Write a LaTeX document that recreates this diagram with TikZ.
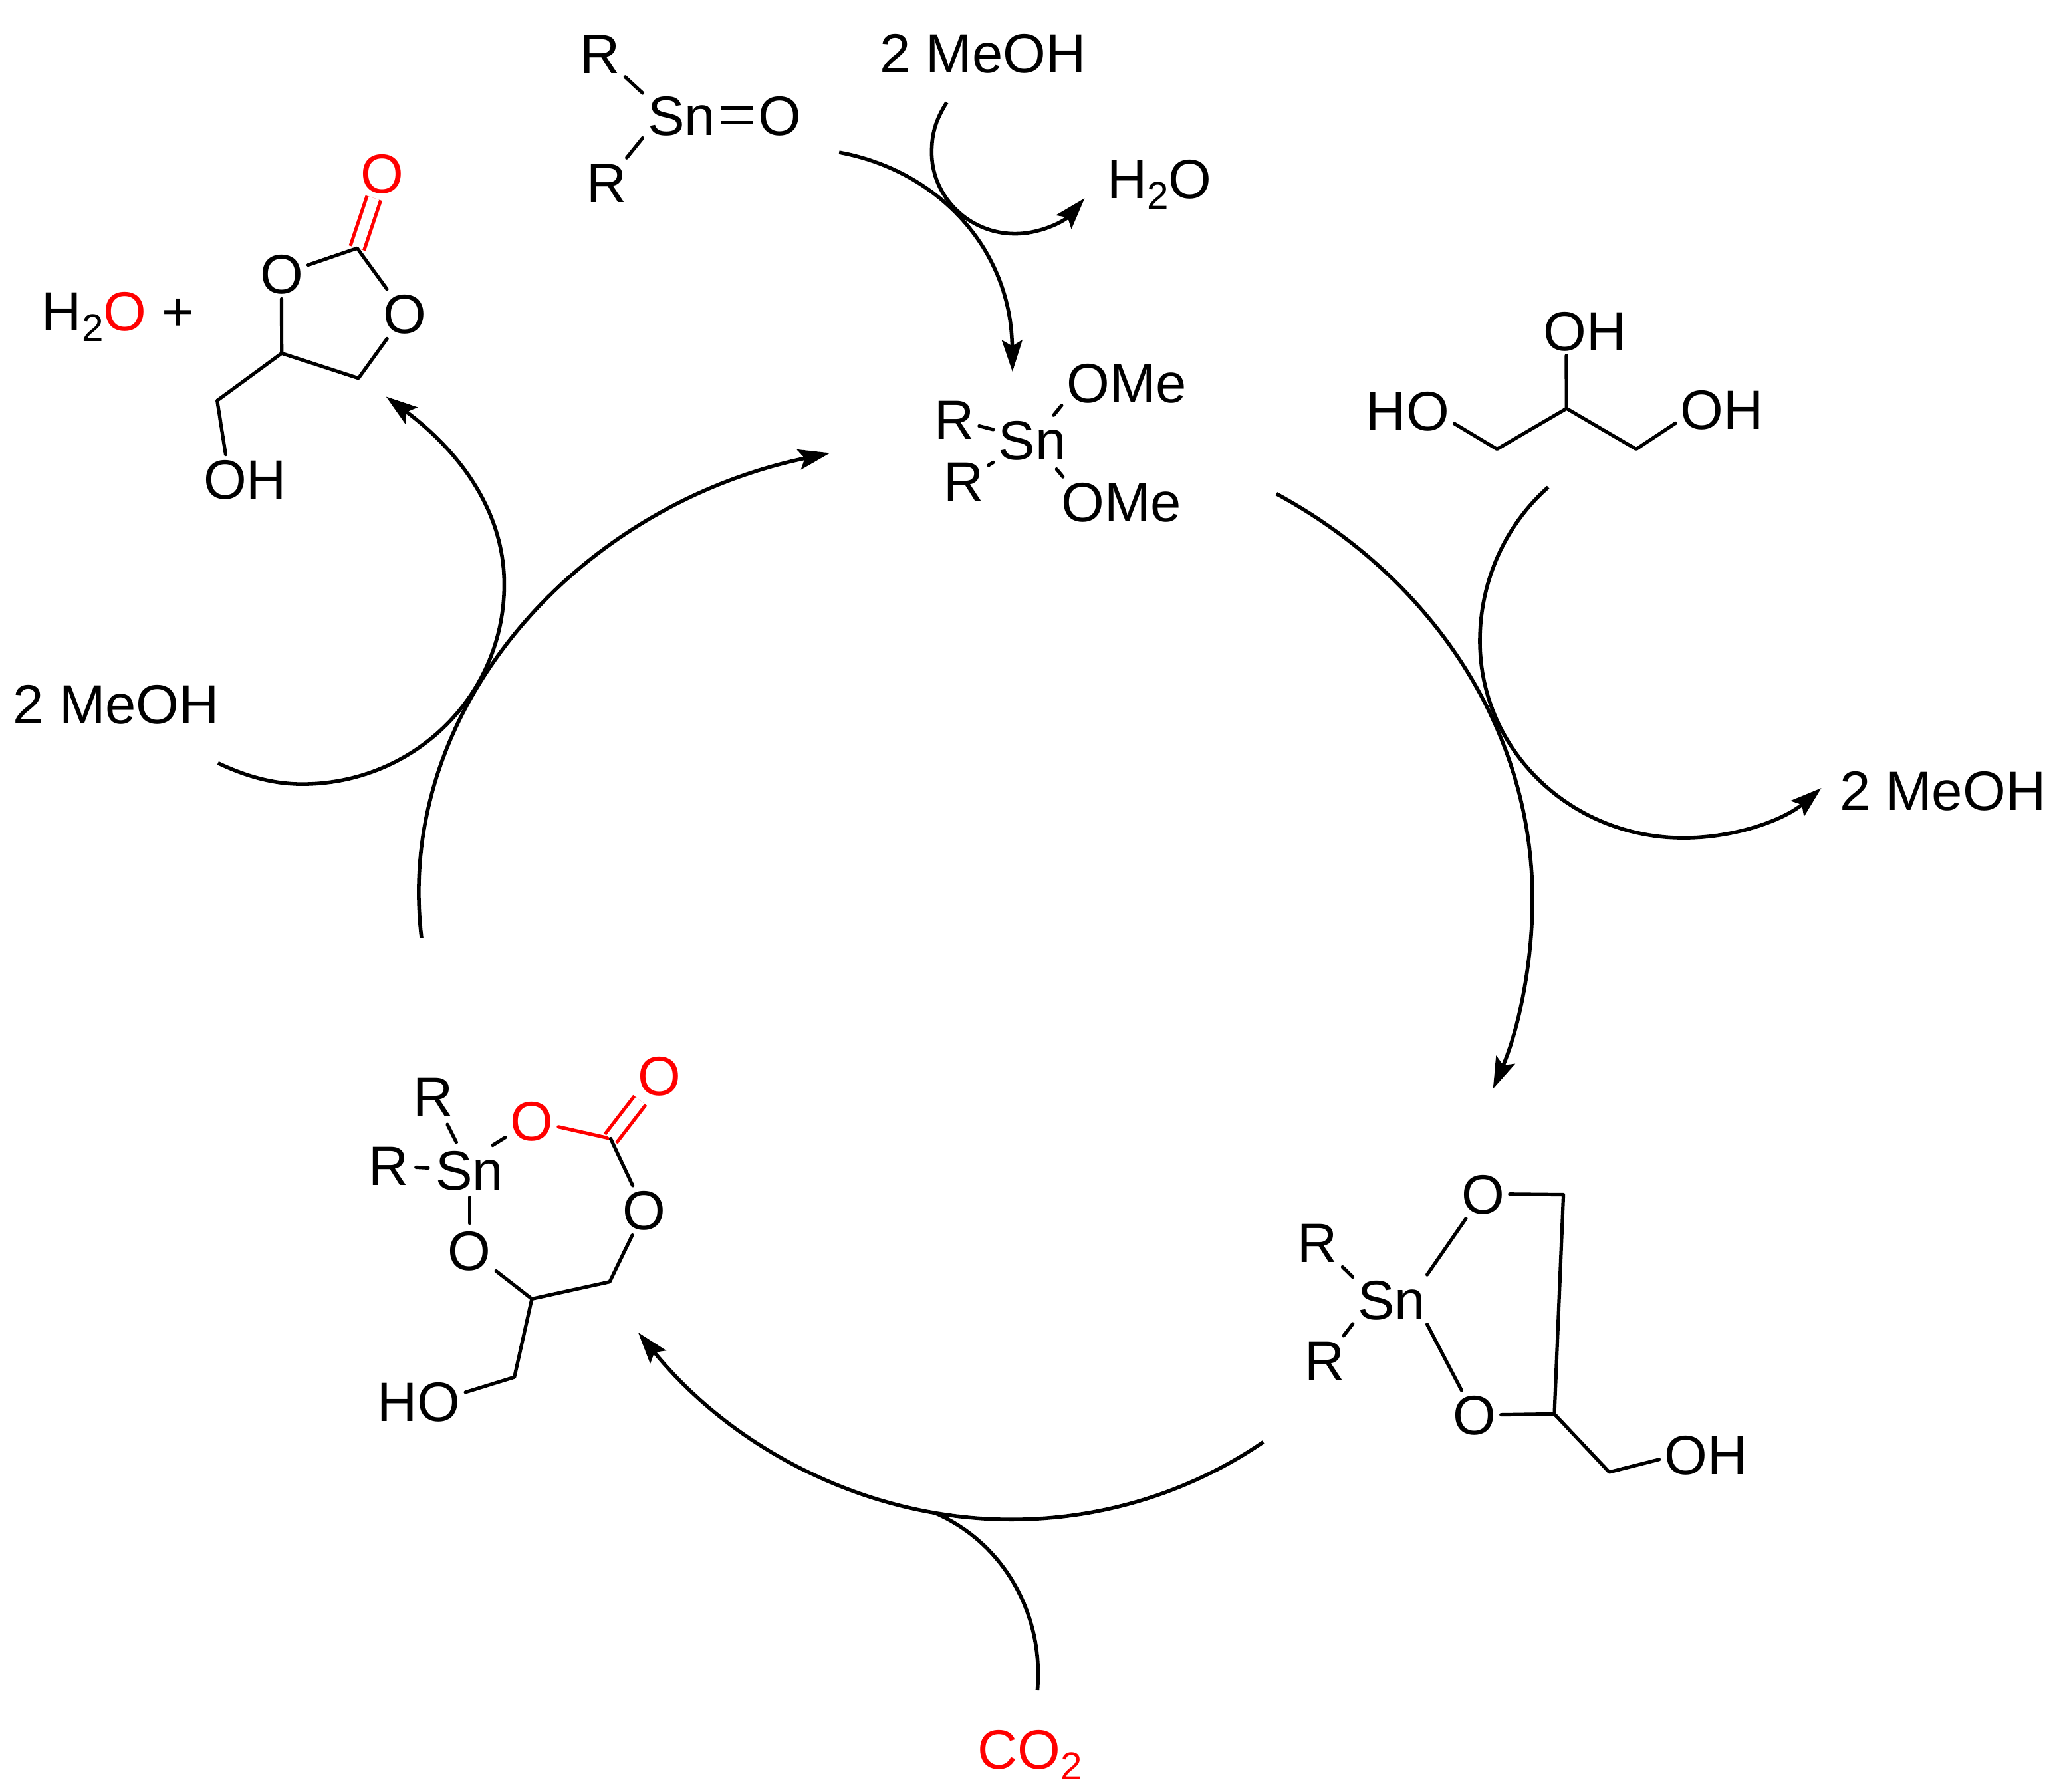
\documentclass[tikz,border=0pt]{standalone}
\usepackage{fontspec}
\setmainfont{Liberation Sans}
\usetikzlibrary{arrows.meta}
\newcommand{\molsub}[1]{\raisebox{-4.6pt}{\fontsize{16.8}{18}\selectfont #1}}

\begin{document}
\begin{tikzpicture}[
    x=0.02cm, y=-0.02cm,
    atomlabel/.style={
        inner sep=2pt, text height=17.1pt, text depth=0pt,
        font=\fontsize{24}{28}\selectfont
    },
    redlabel/.style={atomlabel, text=red},
    bondline/.style={line width=1.5pt, line cap=round, line join=round},
    redbond/.style={bondline, draw=red},
    dblbond/.style={line width=1.5pt, double=white, double distance=4.7pt},
    flowarrow/.style={line width=1.6pt, -{Stealth[length=4.8mm, width=3.1mm, inset=0.9mm]}},
    flowcurve/.style={line width=1.6pt}
]
    \useasboundingbox (0,0) rectangle (1568,1364);

    % dibutyl tin oxide
    \node[atomlabel] (rtopa) at (457,41) {R};
    \node[atomlabel] (rtopb) at (462,139) {R};
    \node[atomlabel] (snoxide) at (519,88) {Sn};
    \node[atomlabel] (ooxide) at (594,88) {O};
    \draw[bondline] (rtopa) -- (snoxide.150);
    \draw[bondline] (rtopb) -- (snoxide.210);
    \draw[dblbond] (snoxide) -- (ooxide);

    % top reagents
    \node[atomlabel] (meohtop) at (748.5,40.5) {2 MeOH};
    \node[atomlabel] (watertop) at (883,136) {H\molsub{2}O};

    % dimethoxide
    \node[atomlabel] (rmeoa) at (726.6,319.5) {R};
    \node[atomlabel] (rmeob) at (733.7,366.4) {R};
    \node[atomlabel] (snmeo) at (786,335) {Sn};
    \node[atomlabel] (omea) at (858,291.6) {OMe};
    \node[atomlabel] (omeb) at (854,382) {OMe};
    \draw[bondline] (rmeoa) -- (snmeo.165);
    \draw[bondline] (rmeob) -- (snmeo.210);
    \draw[bondline] (snmeo.49) -- (omea.199);
    \draw[bondline, shorten <=2.5pt] (snmeo.-50) -- (omeb.157);

    % glycerol
    \coordinate (gla) at (1140,342);
    \coordinate (glb) at (1193,311);
    \coordinate (glc) at (1246,342);
    \node[atomlabel] (glhoa) at (1072,313) {HO};
    \node[atomlabel] (glhob) at (1207,252) {OH};
    \node[atomlabel] (glhoc) at (1311.5,312) {OH};
    \draw[bondline] (glhoa.-15) -- (gla) -- (glb) -- (glc) -- (glhoc.196);
    \draw[bondline] (glb) -- (glhob.233);
    \node[atomlabel] (meohright) at (1479.5,602) {2 MeOH};

    % stannylene ring
    \coordinate (rga) at (1190.6,909.6);
    \coordinate (rgb) at (1183.7,1076.6);
    \coordinate (rgc) at (1225.5,1120.9);
    \node[atomlabel] (rrga) at (1003.3,946) {R};
    \node[atomlabel] (rrgb) at (1008.6,1036) {R};
    \node[atomlabel] (snrg) at (1059.8,989.5) {Sn};
    \node[atomlabel] (orga) at (1129.4,909) {O};
    \node[atomlabel] (orgb) at (1122.8,1077.5) {O};
    \node[atomlabel] (ohrg) at (1299,1107.5) {OH};
    \draw[bondline] (rrga) -- (snrg.150);
    \draw[bondline] (rrgb) -- (snrg.212);
    \draw[bondline] (snrg.35) -- (orga);
    \draw[bondline] (snrg.-35) -- (orgb);
    \draw[bondline] (orga) -- (rga) -- (rgb) -- (orgb);
    \draw[bondline] (rgb) -- (rgc) -- (ohrg.186);

    % carbonate intermediate
    \coordinate (cba) at (465,867);
    \coordinate (cbb) at (464.3,976);
    \coordinate (cbc) at (405,989);
    \coordinate (cbd) at (391.7,1048.6);
    \node[atomlabel] (rcba) at (330,835) {R};
    \node[atomlabel] (rcbb) at (296,887.6) {R};
    \node[atomlabel] (sncb) at (357.5,891) {Sn};
    \node[redlabel] (ocba) at (405,853.5) {O};
    \node[redlabel] (ocbb) at (502,819) {O};
    \node[atomlabel] (ocbc) at (490.7,921.6) {O};
    \node[atomlabel] (ocbd) at (357.5,952) {O};
    \node[atomlabel] (hocb) at (319,1067) {HO};
    \draw[bondline, shorten <=1.5pt, shorten >=1.5pt] (rcba) -- (sncb.115);
    \draw[bondline, shorten <=1pt, shorten >=1pt] (rcbb) -- (sncb);
    \draw[bondline] (sncb.47) -- (ocba);
    \draw[bondline, shorten <=1pt, shorten >=1pt] (sncb) -- (ocbd);
    \draw[redbond] (ocba) -- (cba);
    \draw[dblbond, draw=red] (cba) -- (ocbb);
    \draw[bondline] (cba) -- (ocbc) -- (cbb) -- (cbc) -- (ocbd);
    \draw[bondline] (cbc) -- (cbd) -- (hocb.11);
    \node[redlabel] (cotwo) at (784.5,1332) {CO\molsub{2}};

    % cyclic carbonate product
    \coordinate (pra) at (272,189);
    \coordinate (prb) at (273,288);
    \coordinate (prc) at (214.5,269);
    \coordinate (prd) at (165.4,305);
    \node[redlabel] (oprtop) at (291,132) {O};
    \node[atomlabel] (oprl) at (214.4,208.7) {O};
    \node[atomlabel] (oprr) at (308.4,239) {O};
    \node[atomlabel] (ohpr) at (186.6,365) {OH};
    \node[atomlabel] (waterpr) at (71.7,236.7) {H\molsub{2}\textcolor{red}{O}};
    \node[atomlabel] (plus) at (135.6,236.7) {+};
    \draw[dblbond, draw=red] (pra) -- (oprtop);
    \draw[bondline] (oprl) -- (pra) -- (oprr) -- (prb) -- (prc) -- (oprl);
    \draw[bondline] (prc) -- (prd) -- (ohpr.128);
    \node[atomlabel] (meohleft) at (88.5,536) {2 MeOH};

    % cycle arrows
    \coordinate (arra) at (639,116);
    \coordinate (arrb) at (771,283);
    \coordinate (arrc) at (721,78);
    \coordinate (arrd) at (826,151);
    \coordinate (arre) at (972,376);
    \coordinate (arrf) at (1137,829);
    \coordinate (arrg) at (1179,371);
    \coordinate (arrh) at (1387,600);
    \coordinate (arri) at (962,1098);
    \coordinate (arrj) at (486,1014.6);
    \coordinate (arrk) at (790,1287);
    \coordinate (arrl) at (712,1152);
    \coordinate (arrm) at (321,714);
    \coordinate (arrn) at (632,345);
    \coordinate (arro) at (166,581);
    \coordinate (arrp) at (294,302);

    \draw[flowarrow] (arra) .. controls (715,130) and (770,190) .. (arrb);
    \draw[flowarrow] (arrc) .. controls (712,92) and (709.5,103) .. (709.5,116)
        .. controls (709.5,150) and (738,178) .. (773,178)
        .. controls (793,178) and (811,168) .. (arrd);
    \draw[flowarrow] (arre) .. controls (1085,437) and (1167,550) .. (1167,685)
        .. controls (1167,735) and (1156,785) .. (arrf);
    \draw[flowarrow] (arrg) .. controls (1146,400) and (1127,443) .. (1127,488)
        .. controls (1127,572) and (1197,638) .. (1282,638)
        .. controls (1322,638) and (1359,624) .. (arrh);
    \draw[flowarrow] (arri) .. controls (905,1137) and (838,1157) .. (770,1157)
        .. controls (660,1157) and (558,1103) .. (arrj);
    \draw[flowcurve] (arrk) .. controls (795,1230) and (765,1175) .. (arrl);
    \draw[flowarrow] (arrm) .. controls (300,540) and (440,385) .. (arrn);
    \draw[flowarrow] (arro) .. controls (187,591) and (208,597) .. (230,597)
        .. controls (315,597) and (384,530) .. (384,445)
        .. controls (384,385) and (345,340) .. (arrp);
\end{tikzpicture}
\end{document}
